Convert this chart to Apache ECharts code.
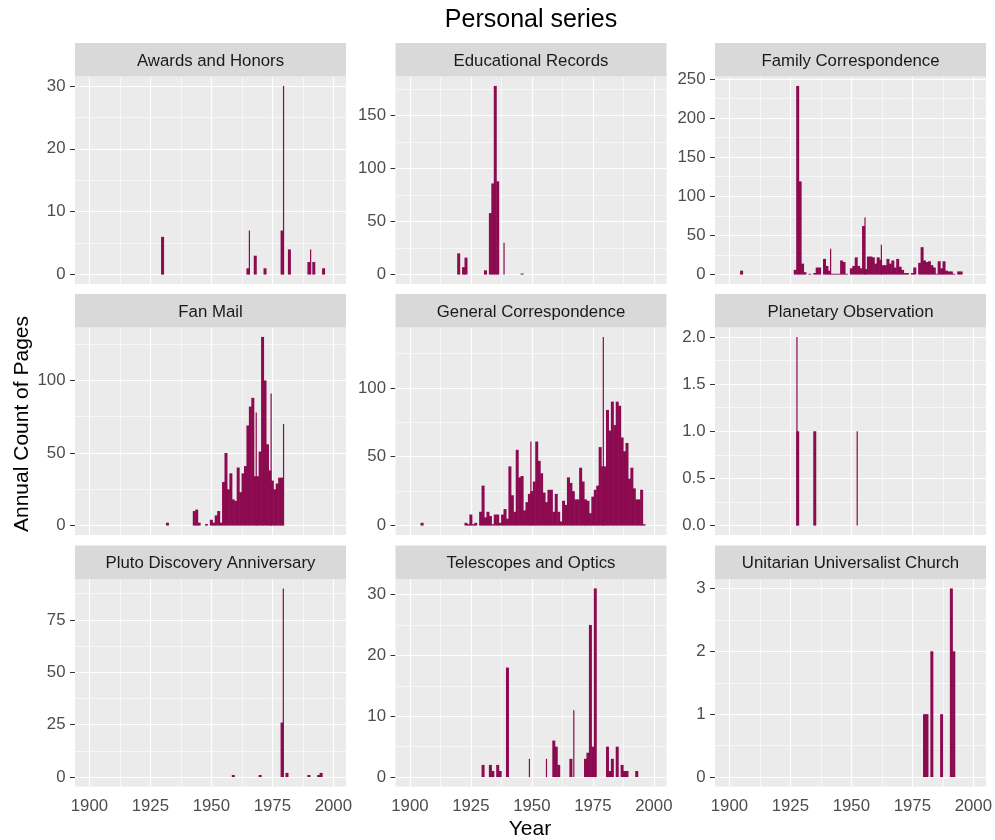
<!DOCTYPE html>
<html>
<head>
<meta charset="utf-8">
<script src="https://cdn.jsdelivr.net/npm/echarts@6/dist/echarts.min.js"></script>
<style>
html,body{margin:0;padding:0;background:#ffffff;}
#chart{width:995px;height:840px;}
</style>
</head>
<body>
<div id="chart"></div>
<script>
// ---------------- DATA ----------------
const chartTitle = 'Personal series';
const xTitle = 'Year';
const yTitle = 'Annual Count of Pages';
const xTicks = [1900, 1925, 1950, 1975, 2000];
const xMinorTicks = [1912.5, 1937.5, 1962.5, 1987.5];

// [year, pages] — main bars, and narrow "spike" bars
const awardsHonors = [[1930,6],[1965,1],[1968,3],[1972,1],[1979,7],[1982,4],[1990,2],[1992,2],[1996,1]];
const awardsHonorsSpikes = [[1965.6,7],[1979.6,30],[1990.7,4]];
const awardsHonorsTicks = [0,10,20,30];

const educationalRecords = [[1920,20],[1922,7],[1923,16],[1931,4],[1933,58],[1934,86],[1935,178],[1936,88],[1946,1]];
const educationalRecordsSpikes = [[1938.6,30]];
const educationalRecordsTicks = [0,50,100,150];

const familyCorrespondence = [[1905,5],[1927,6],[1928,241],[1929,119],[1930,14],[1931,3],[1933,1],[1935,2],[1936,9],[1937,9],
  [1939,20],[1940,11],[1941,5],[1942,1],[1943,1],[1944,1],[1945,1],[1946,18],[1947,16],[1948,1],[1950,8],[1951,11],[1952,22],
  [1953,11],[1954,8],[1955,62],[1956,7],[1957,23],[1958,23],[1959,22],[1960,14],[1961,22],[1962,19],[1963,12],[1964,12],
  [1965,20],[1966,14],[1967,18],[1968,9],[1969,20],[1970,10],[1971,6],[1972,2],[1973,2],[1975,2],[1976,9],[1978,15],
  [1979,35],[1980,18],[1981,16],[1982,17],[1983,12],[1984,9],[1985,1],[1986,17],[1987,8],[1988,17],[1989,5],[1990,4],
  [1991,4],[1992,1],[1994,4],[1995,4]];
const familyCorrespondenceSpikes = [[1941.5,33],[1955.6,73],[1962.3,38]];
const familyCorrespondenceTicks = [0,50,100,150,200,250];

const fanMail = [[1932,2],[1943,10],[1944,11],[1945,2],[1948,1],[1950,4],[1951,2],[1952,7],[1953,10],[1954,2],[1955,30],
  [1956,50],[1957,25],[1958,36],[1959,18],[1960,17],[1961,40],[1962,23],[1963,36],[1964,41],[1965,69],[1966,82],[1967,88],
  [1968,34],[1969,34],[1970,51],[1971,130],[1972,100],[1973,56],[1974,38],[1975,31],[1976,25],[1977,29],[1978,33],[1979,33]];
const fanMailSpikes = [[1968.4,78],[1974.5,91],[1979.6,70]];
const fanMailTicks = [0,50,100];

const generalCorrespondence = [[1905,2],[1923,2],[1924,1],[1925,8],[1926,1],[1927,2],[1929,10],[1930,29],[1931,6],[1932,10],
  [1933,7],[1934,1],[1935,8],[1936,8],[1937,2],[1938,8],[1939,12],[1940,5],[1941,43],[1942,22],[1943,10],[1944,55],[1945,35],
  [1946,36],[1947,11],[1948,17],[1949,23],[1950,25],[1951,32],[1952,61],[1953,47],[1954,38],[1955,24],[1956,17],[1957,26],
  [1958,26],[1959,10],[1960,23],[1961,10],[1962,3],[1963,18],[1964,15],[1965,35],[1966,31],[1967,25],[1968,19],[1969,19],
  [1970,42],[1971,32],[1972,19],[1973,18],[1974,9],[1975,21],[1976,26],[1977,29],[1978,57],[1979,43],[1980,43],[1981,84],
  [1982,69],[1983,90],[1984,73],[1985,90],[1986,87],[1987,64],[1988,54],[1989,60],[1990,34],[1991,42],[1992,27],[1993,19],
  [1994,19],[1995,26],[1996,1]];
const generalCorrespondenceSpikes = [[1949.6,61],[1979.3,137]];
const generalCorrespondenceTicks = [0,50,100];

const planetaryObservation = [[1928,1],[1935,1]];
const planetaryObservationSpikes = [[1927.7,2],[1952.4,1]];
const planetaryObservationTicks = [0,0.5,1,1.5,2];

const plutoAnniversary = [[1959,1],[1970,1],[1979,26],[1981,2],[1990,1],[1994,1],[1995,2]];
const plutoAnniversarySpikes = [[1979.5,90]];
const plutoAnniversaryTicks = [0,25,50,75];

const telescopesOptics = [[1930,2],[1933,2],[1934,1],[1936,2],[1937,1],[1940,18],[1959,6],[1960,5],[1961,2],[1966,3],
  [1972,3],[1973,4],[1974,25],[1975,5],[1976,31],[1981,5],[1982,1],[1983,3],[1985,5],[1987,2],[1988,1],[1989,1],[1993,1]];
const telescopesOpticsSpikes = [[1949,3],[1956,3],[1967.2,11]];
const telescopesOpticsTicks = [0,10,20,30];

const unitarianChurch = [[1980,1],[1981,1],[1983,2],[1987,1],[1991,3],[1992,2]];
const unitarianChurchSpikes = [];
const unitarianChurchTicks = [0,1,2,3];

const panels = [
  {name:'Awards and Honors', bars:awardsHonors, spikes:awardsHonorsSpikes, ticks:awardsHonorsTicks, dec:0},
  {name:'Educational Records', bars:educationalRecords, spikes:educationalRecordsSpikes, ticks:educationalRecordsTicks, dec:0},
  {name:'Family Correspondence', bars:familyCorrespondence, spikes:familyCorrespondenceSpikes, ticks:familyCorrespondenceTicks, dec:0},
  {name:'Fan Mail', bars:fanMail, spikes:fanMailSpikes, ticks:fanMailTicks, dec:0},
  {name:'General Correspondence', bars:generalCorrespondence, spikes:generalCorrespondenceSpikes, ticks:generalCorrespondenceTicks, dec:0},
  {name:'Planetary Observation', bars:planetaryObservation, spikes:planetaryObservationSpikes, ticks:planetaryObservationTicks, dec:1},
  {name:'Pluto Discovery Anniversary', bars:plutoAnniversary, spikes:plutoAnniversarySpikes, ticks:plutoAnniversaryTicks, dec:0},
  {name:'Telescopes and Optics', bars:telescopesOptics, spikes:telescopesOpticsSpikes, ticks:telescopesOpticsTicks, dec:0},
  {name:'Unitarian Universalist Church', bars:unitarianChurch, spikes:unitarianChurchSpikes, ticks:unitarianChurchTicks, dec:0}
];

// ---------------- LAYOUT / STYLE ----------------
const FONT = '"Liberation Sans", Arial, sans-serif';
const BAR = '#8B0A50';
const X_MIN = 1894.1, X_MAX = 2005.2;
const colLeft = [75, 395.5, 715];
const rowTop = [76.5, 327.5, 579];
const PW = 271, PH = 207.5, STRIP = 33.5;
const TICK_FS = 16.8;

const grids = [], xAxes = [], yAxes = [], series = [], graphics = [];

panels.forEach((p, i) => {
  const r = Math.floor(i / 3), c = i % 3;
  const left = colLeft[c], top = rowTop[r];
  const isBottom = r === 2;
  const maxV = Math.max(...p.bars.map(d => d[1]), ...p.spikes.map(d => d[1]));
  const yMin = -0.05 * maxV, yMax = 1.05 * maxV;

  grids.push({left: left, top: top, width: PW, height: PH, show: true,
    backgroundColor: '#EBEBEB', borderWidth: 0, containLabel: false, outerBoundsMode: 'none'});

  xAxes.push({type: 'value', gridIndex: i, min: X_MIN, max: X_MAX,
    axisLine: {show: false}, splitLine: {show: false}, minorSplitLine: {show: false},
    axisTick: {show: isBottom, customValues: xTicks, length: 5, lineStyle: {color: '#333333', width: 1}},
    axisLabel: {show: isBottom, customValues: xTicks, margin: 11, color: '#4D4D4D',
      fontSize: TICK_FS, fontFamily: FONT, formatter: v => String(v)}});
  xAxes.push({type: 'value', gridIndex: i, min: X_MIN, max: X_MAX, show: false,
    axisLine: {show: false}, splitLine: {show: false}, axisTick: {show: false}, axisLabel: {show: false}});

  yAxes.push({type: 'value', gridIndex: i, min: yMin, max: yMax,
    axisLine: {show: false}, splitLine: {show: false},
    axisTick: {show: true, customValues: p.ticks, length: 5, lineStyle: {color: '#333333', width: 1}},
    axisLabel: {show: true, customValues: p.ticks, margin: 9.5, color: '#4D4D4D',
      fontSize: TICK_FS, fontFamily: FONT, formatter: v => p.dec ? Number(v).toFixed(p.dec) : String(Math.round(v))}});

  // gridlines
  const step = p.ticks[1] - p.ticks[0];
  const yMinor = [];
  p.ticks.forEach(t => { if (t + step / 2 < yMax) yMinor.push(t + step / 2); });
  const gl = [];
  xMinorTicks.forEach(v => gl.push({xAxis: v, lineStyle: {color: '#FFFFFF', width: 0.6, type: 'solid'}}));
  yMinor.forEach(v => gl.push({yAxis: v, lineStyle: {color: '#FFFFFF', width: 0.6, type: 'solid'}}));
  xTicks.forEach(v => gl.push({xAxis: v, lineStyle: {color: '#FFFFFF', width: 1.2, type: 'solid'}}));
  p.ticks.forEach(v => gl.push({yAxis: v, lineStyle: {color: '#FFFFFF', width: 1.2, type: 'solid'}}));

  series.push({type: 'line', xAxisIndex: 2 * i, yAxisIndex: i, data: [], silent: true, z: 1,
    symbol: 'none', animation: false,
    markLine: {silent: true, z: 1, symbol: ['none', 'none'], animation: false, precision: 4,
      label: {show: false}, emphasis: {disabled: true}, data: gl}});

  series.push({type: 'bar', name: p.name, xAxisIndex: 2 * i, yAxisIndex: i, data: p.bars,
    barWidth: 3, itemStyle: {color: BAR}, z: 3, animation: false, silent: true});
  series.push({type: 'bar', name: p.name + ' spikes', xAxisIndex: 2 * i + 1, yAxisIndex: i, data: p.spikes,
    barWidth: 1.2, itemStyle: {color: BAR}, z: 3, animation: false, silent: true});

  // facet strip
  graphics.push({type: 'rect', silent: true, z: 10,
    shape: {x: left, y: top - STRIP, width: PW, height: STRIP},
    style: {fill: '#D9D9D9'}});
  graphics.push({type: 'text', silent: true, z: 11, x: left + PW / 2, y: top - STRIP / 2 + 1.5,
    style: {text: p.name, fill: '#1A1A1A', fontSize: 16.8, fontFamily: FONT,
      align: 'center', verticalAlign: 'middle', textAlign: 'center', textVerticalAlign: 'middle'}});
});

graphics.push({type: 'text', silent: true, z: 11, x: 531, y: 20,
  style: {text: chartTitle, fill: '#000000', fontSize: 25, fontFamily: FONT,
    align: 'center', verticalAlign: 'middle', textAlign: 'center', textVerticalAlign: 'middle'}});
graphics.push({type: 'text', silent: true, z: 11, x: 530, y: 829,
  style: {text: xTitle, fill: '#000000', fontSize: 21, fontFamily: FONT,
    align: 'center', verticalAlign: 'middle', textAlign: 'center', textVerticalAlign: 'middle'}});
graphics.push({type: 'text', silent: true, z: 11, x: 22, y: 424, rotation: Math.PI / 2,
  style: {text: yTitle, fill: '#000000', fontSize: 21, fontFamily: FONT,
    align: 'center', verticalAlign: 'middle', textAlign: 'center', textVerticalAlign: 'middle'}});

const chart = echarts.init(document.getElementById('chart'), null, {renderer: 'canvas'});
chart.setOption({
  backgroundColor: '#FFFFFF',
  animation: false,
  textStyle: {fontFamily: FONT},
  grid: grids,
  xAxis: xAxes,
  yAxis: yAxes,
  series: series,
  graphic: {elements: graphics}
});
</script>
</body>
</html>
